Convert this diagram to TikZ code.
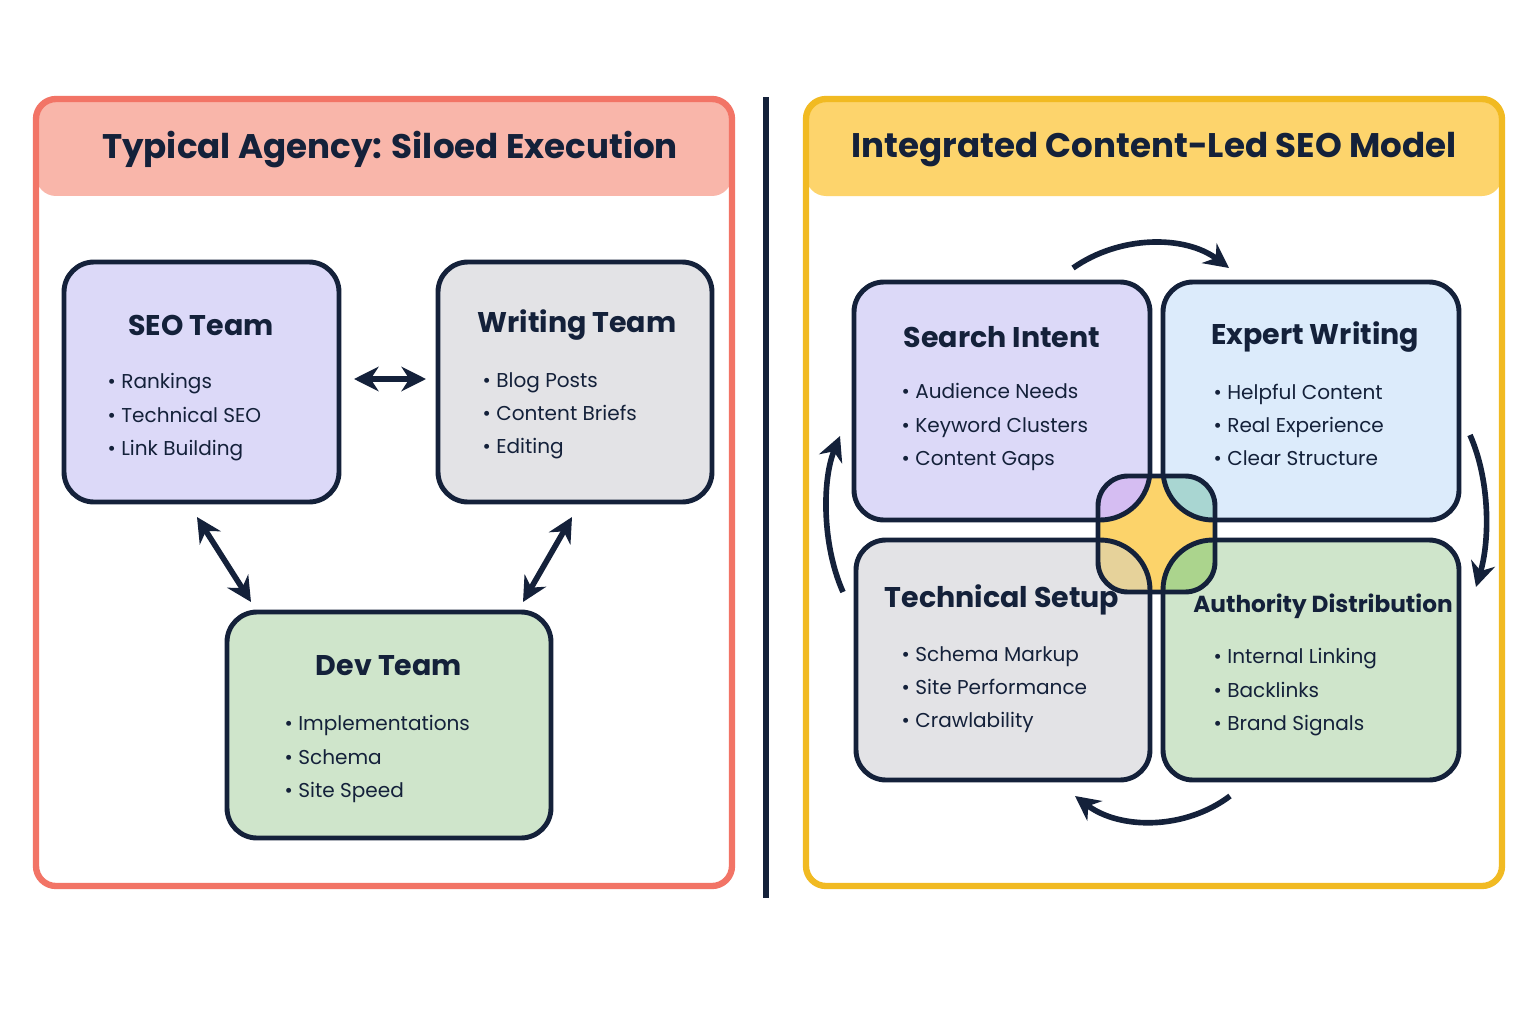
\documentclass[tikz,border=0pt]{standalone}
\usepackage{fontspec}
\setmainfont{Poppins}
\usetikzlibrary{arrows.meta}
\definecolor{ink}{HTML}{14213A}
\definecolor{lred}{HTML}{F27466}
\definecolor{lredh}{HTML}{F9B6AA}
\definecolor{ryel}{HTML}{F1BA22}
\definecolor{ryelh}{HTML}{FDD46C}
\definecolor{cpur}{HTML}{DCD9F8}
\definecolor{cgray}{HTML}{E3E3E6}
\definecolor{cgreen}{HTML}{CFE5CB}
\definecolor{cblue}{HTML}{DCEBFB}
\definecolor{cyel}{HTML}{FCD36A}
\definecolor{tpur}{HTML}{D5BDF2}
\definecolor{tblue}{HTML}{A9D6D2}
\definecolor{tgray}{HTML}{E6D29A}
\definecolor{tgreen}{HTML}{ABD48D}
\begin{document}
\begin{tikzpicture}[x=0.01cm,y=-0.01cm,
  box/.style={draw=ink,line width=1.4pt,rounded corners=0.3cm},
  ttl/.style={font=\bfseries\fontsize{8.1}{10}\selectfont,text=ink},
  lst/.style={font=\fontsize{5.7}{9.4}\selectfont,text=ink,align=left,anchor=north west,inner sep=0pt},
  arr/.style={draw=ink,line width=1.6pt,-{Stealth[length=7pt,width=7pt]}},
  darr/.style={draw=ink,line width=1.6pt,{Stealth[length=7pt,width=7pt]}-{Stealth[length=7pt,width=7pt]}}]
\useasboundingbox (0,0) rectangle (1536,1024);
\fill[white] (0,0) rectangle (1536,1024);
% left panel
\fill[lredh,rounded corners=0.2cm] (36,99) rectangle (732,196);
\fill[white] (38,196) rectangle (730,860);
\draw[lred,line width=1.8pt,rounded corners=0.2cm] (36,99) rectangle (732,886);
\node[font=\bfseries\fontsize{9.7}{12}\selectfont,text=ink] (lt) at (390,150) {Typical Agency: Siloed Execution};
% right panel
\fill[ryelh,rounded corners=0.2cm] (806,99) rectangle (1502,196);
\draw[ryel,line width=1.8pt,rounded corners=0.2cm] (806,99) rectangle (1502,886);
\node[font=\bfseries\fontsize{9.7}{12}\selectfont,text=ink] (rt) at (1154,150) {Integrated Content-Led SEO Model};
% divider
\coordinate (d1) at (766,97); \coordinate (d2) at (766,898);
\draw[ink,line width=1.6pt] (d1) -- (d2);
% left boxes
\draw[box,fill=cpur] (64,262) rectangle (339,502);
\node[ttl] (seo) at (201,325) {SEO Team};
\node[lst] at (107,373) {• Rankings\\• Technical SEO\\• Link Building};
\draw[box,fill=cgray] (438,262) rectangle (712,502);
\node[ttl] (wri) at (577,325) {Writing Team};
\node[lst] at (482,372) {• Blog Posts\\• Content Briefs\\• Editing};
\draw[box,fill=cgreen] (227,612) rectangle (551,838);
\node[ttl] (dev) at (389,666) {Dev Team};
\node[lst] at (284,715) {• Implementations\\• Schema\\• Site Speed};
\coordinate (a1) at (354,379); \coordinate (a2) at (426,379);
\draw[darr] (a1) -- (a2);
\coordinate (b1) at (197,517); \coordinate (b2) at (251,602);
\draw[darr] (b1) -- (b2);
\coordinate (c1) at (572,517); \coordinate (c2) at (523,602);
\draw[darr] (c1) -- (c2);
% right boxes
\def\bA{(854,282) rectangle (1150,520)}
\def\bB{(1163,282) rectangle (1459,520)}
\def\bC{(856,540) rectangle (1150,780)}
\def\bD{(1163,540) rectangle (1459,780)}
\draw[box,fill=cpur] \bA;
\draw[box,fill=cblue] \bB;
\draw[box,fill=cgray] \bC;
\draw[box,fill=cgreen] \bD;
% center
\fill[cyel,rounded corners=0.3cm] (1098,476) rectangle (1215,592);
\begin{scope}
\clip[rounded corners=0.3cm] (1098,476) rectangle (1215,592);
\tikzset{box/.append style={rounded corners=0.5cm}}
\fill[tpur,rounded corners=0.5cm] \bA;
\fill[tblue,rounded corners=0.5cm] \bB;
\fill[tgray,rounded corners=0.5cm] \bC;
\fill[tgreen,rounded corners=0.5cm] \bD;
\draw[box] \bA; \draw[box] \bB; \draw[box] \bC; \draw[box] \bD;
\end{scope}
\draw[box] (1098,476) rectangle (1215,592);
\node[ttl] (si) at (1002,337) {Search Intent};
\node[lst] at (901,383) {• Audience Needs\\• Keyword Clusters\\• Content Gaps};
\node[ttl] (ew) at (1315,337) {Expert Writing};
\node[lst] at (1213,383) {• Helpful Content\\• Real Experience\\• Clear Structure};
\node[ttl] (ts) at (1002,600) {Technical Setup};
\node[lst] at (901,646) {• Schema Markup\\• Site Performance\\• Crawlability};
\node[ttl,font=\bfseries\fontsize{6.6}{9}\selectfont] (ad) at (1323,606) {Authority Distribution};
\node[lst] at (1213,648) {• Internal Linking\\• Backlinks\\• Brand Signals};
% cycle arrows
\coordinate (t1) at (1073,268); \coordinate (t2) at (1229,268);
\draw[arr] (t1) .. controls (1120,235) and (1185,235) .. (t2);
\coordinate (r1) at (1470,435); \coordinate (r2) at (1476,587);
\draw[arr] (r1) .. controls (1490,480) and (1490,540) .. (r2);
\coordinate (u1) at (1230,796); \coordinate (u2) at (1075,796);
\draw[arr] (u1) .. controls (1185,830) and (1120,830) .. (u2);
\coordinate (l1) at (843,592); \coordinate (l2) at (840,436);
\draw[arr] (l1) .. controls (822,545) and (822,480) .. (l2);
\end{tikzpicture}
\end{document}
